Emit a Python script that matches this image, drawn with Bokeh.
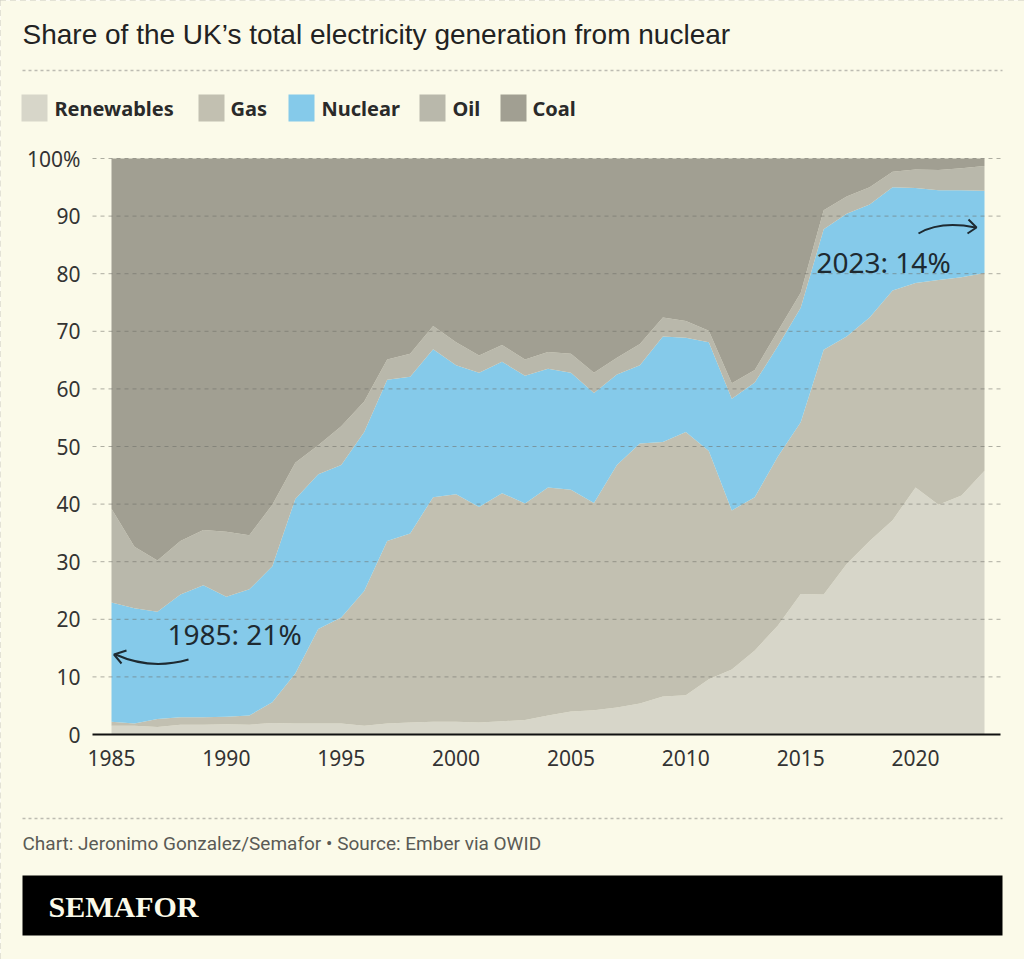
from bokeh.plotting import figure
from bokeh.layouts import column
from bokeh.models import ColumnDataSource, Label, FixedTicker, Range1d, LinearAxis
from bokeh.embed import file_html
from bokeh.resources import INLINE

# ---------------- data (share of UK electricity generation, %) ----------------
years = list(range(1985, 2024))
renewables = [1.5, 1.5, 1.3, 1.7, 1.7, 1.8, 1.7, 2.0, 1.9, 1.9,
              1.9, 1.5, 1.9, 2.1, 2.2, 2.2, 2.1, 2.3, 2.5, 3.3,
              4.0, 4.2, 4.7, 5.4, 6.6, 6.8, 9.6, 11.3, 14.6, 18.9,
              24.4, 24.3, 29.6, 33.6, 37.2, 42.9, 39.9, 41.5, 45.8]
gas = [0.7, 0.4, 1.4, 1.3, 1.3, 1.3, 1.6, 3.6, 8.7, 16.4,
       18.4, 23.4, 31.7, 32.8, 39.0, 39.5, 37.4, 39.6, 37.6, 39.6,
       38.5, 36.0, 42.1, 45.1, 44.2, 45.7, 39.6, 27.6, 26.6, 29.3,
       29.8, 42.5, 39.5, 38.8, 39.9, 35.5, 39.0, 37.9, 34.3]
nuclear = [20.7, 20.0, 18.6, 21.3, 22.9, 20.8, 21.9, 23.6, 30.3, 26.9,
           26.5, 27.6, 28.0, 27.2, 25.7, 22.4, 23.3, 22.8, 22.2, 20.6,
           20.3, 19.1, 15.7, 13.6, 18.3, 16.4, 18.9, 19.4, 19.9, 19.2,
           19.9, 20.9, 21.3, 19.6, 17.9, 16.5, 15.6, 15.1, 14.3]
oil = [16.3, 10.7, 8.9, 9.3, 9.6, 11.3, 9.4, 10.7, 6.3, 5.0,
       6.7, 5.3, 3.5, 4.0, 4.0, 4.0, 3.0, 2.9, 2.8, 2.9,
       3.3, 3.5, 2.9, 3.7, 3.3, 2.9, 2.0, 2.7, 2.2, 2.6,
       2.6, 3.3, 3.0, 3.0, 2.7, 3.2, 3.5, 3.8, 4.3]
coal = [60.8, 67.4, 69.8, 66.4, 64.5, 64.8, 65.4, 60.1, 52.8, 49.8,
        46.5, 42.2, 34.9, 33.9, 29.1, 31.9, 34.2, 32.4, 34.9, 33.6,
        33.9, 37.2, 34.6, 32.2, 27.6, 28.2, 29.9, 39.0, 36.7, 30.0,
        23.3, 9.0, 6.6, 5.0, 2.3, 1.9, 2.0, 1.7, 1.3]

series_names = ["Renewables", "Gas", "Nuclear", "Oil", "Coal"]
series_keys = ["renewables", "gas", "nuclear", "oil", "coal"]
series_colors = ["#D7D6C9", "#C2C0B1", "#85CAEA", "#B9B8AB", "#A19F92"]

y_ticks = [0, 10, 20, 30, 40, 50, 60, 70, 80, 90, 100]
x_ticks = [1985, 1990, 1995, 2000, 2005, 2010, 2015, 2020]

title_text = "Share of the UK\u2019s total electricity generation from nuclear"
source_text = "Chart: Jeronimo Gonzalez/Semafor \u2022 Source: Ember via OWID"
brand_text = "SEMAFOR"
note_1985 = "1985: 21%"
note_2023 = "2023: 14%"

# ---------------- layout constants (page pixels) ----------------
BG = "#FBFAE9"
INK = "#222222"
NOTE = "#1E2A31"
SEP = "#BDBCB2"
W, H = 1024, 959
PLOT_L, PLOT_R, PLOT_T, PLOT_B = 92, 1000, 158, 734
X0_PX, X1_PX = 111, 984          # page x of 1985 and 2023
PX_PER_YEAR = (X1_PX - X0_PX) / 38.0
PX_PER_PCT = (PLOT_B - PLOT_T) / 100.0


def dx(X):  # page x -> data x
    return 1985 + (X - X0_PX) / PX_PER_YEAR


def dy(Y):  # page y -> data y
    return (PLOT_B - Y) / PX_PER_PCT


source = ColumnDataSource(dict(year=years, renewables=renewables, gas=gas,
                               nuclear=nuclear, oil=oil, coal=coal))

p = figure(width=W, height=H, output_backend="svg", toolbar_location=None,
           x_range=Range1d(dx(0), dx(W)), y_range=Range1d(dy(H), dy(0)),
           x_axis_type=None, y_axis_type=None, min_border=0,
           background_fill_color=BG, border_fill_color=BG, outline_line_color=None)

# stacked areas
p.varea_stack(stackers=series_keys, x="year", color=series_colors, source=source)

# dashed horizontal grid lines over the areas (extend a little past the data)
p.segment(x0=[dx(PLOT_L)] * 10, x1=[dx(PLOT_R)] * 10, y0=y_ticks[1:], y1=y_ticks[1:],
          line_color="#6E6D66", line_alpha=0.55, line_dash="4 4", line_width=1)

# axes placed at fixed data locations inside the full-page frame
xaxis = LinearAxis(fixed_location=0, bounds=(dx(PLOT_L), dx(PLOT_R)),
                   ticker=FixedTicker(ticks=x_ticks))
xaxis.axis_line_color = "#111111"
xaxis.axis_line_width = 2
xaxis.major_tick_out = 0
xaxis.major_tick_in = 0
xaxis.major_tick_line_color = None
xaxis.minor_tick_line_color = None
xaxis.major_label_standoff = 15
xaxis.major_label_text_font = "Noto Sans"
xaxis.major_label_text_font_size = "21px"
xaxis.major_label_text_color = "#333333"
p.add_layout(xaxis, "below")

yaxis = LinearAxis(fixed_location=dx(PLOT_L), bounds=(0, 100),
                   ticker=FixedTicker(ticks=y_ticks))
yaxis.major_label_overrides = {100: "100%"}
yaxis.axis_line_color = None
yaxis.major_tick_out = 0
yaxis.major_tick_in = 0
yaxis.major_tick_line_color = None
yaxis.minor_tick_line_color = None
yaxis.major_label_standoff = 12
yaxis.major_label_text_font = "Noto Sans"
yaxis.major_label_text_font_size = "21px"
yaxis.major_label_text_color = "#333333"
p.add_layout(yaxis, "left")

# notes and arrows
p.add_layout(Label(x=dx(167), y=dy(633), text=note_1985, text_font="Noto Sans",
                   text_font_size="28px", text_baseline="middle", text_color=NOTE))
p.add_layout(Label(x=dx(816), y=dy(261), text=note_2023, text_font="Noto Sans",
                   text_font_size="28px", text_baseline="middle", text_color=NOTE))
p.bezier(x0=dx(188), y0=dy(659), x1=dx(115), y1=dy(654),
         cx0=dx(160), cy0=dy(667), cx1=dx(135), cy1=dy(663),
         line_color=NOTE, line_width=2)
p.multi_line(xs=[[dx(126), dx(113.5), dx(121)]], ys=[[dy(650), dy(654), dy(663)]],
             line_color=NOTE, line_width=2)
p.bezier(x0=dx(918), y0=dy(233), x1=dx(975), y1=dy(227),
         cx0=dx(935), cy0=dy(223), cx1=dx(955), cy1=dy(223),
         line_color=NOTE, line_width=2)
p.multi_line(xs=[[dx(968), dx(976), dx(967)]], ys=[[dy(219), dy(227), dy(233)]],
             line_color=NOTE, line_width=2)

# ---------------- header ----------------
p.add_layout(Label(x=dx(22), y=dy(34), text=title_text, text_font="Liberation Sans",
                   text_font_size="28px", text_baseline="middle", text_color=INK))
p.segment(x0=[dx(22), dx(22)], y0=[dy(70), dy(818)], x1=[dx(1002), dx(1002)],
          y1=[dy(70), dy(818)], line_color=SEP, line_dash="3 3", line_width=1.5)
sw_left = [21, 198, 288, 419, 500]
tx_left = [54, 230, 321, 452, 532]
p.quad(left=[dx(v) for v in sw_left], right=[dx(v + 26) for v in sw_left],
       top=[dy(94)] * 5, bottom=[dy(121)] * 5, fill_color=series_colors, line_color=None)
for name, t in zip(series_names, tx_left):
    p.add_layout(Label(x=dx(t), y=dy(107.5), text=name, text_font="Noto Sans",
                       text_font_size="20px", text_font_style="bold",
                       text_baseline="middle", text_color="#2A2A2A"))

# ---------------- footer ----------------
p.add_layout(Label(x=dx(22), y=dy(843), text=source_text, text_font="Roboto",
                   text_font_size="19px", text_baseline="middle", text_color="#5A5A55"))
p.quad(left=[dx(22)], right=[dx(1002)], top=[dy(875)], bottom=[dy(935)],
       fill_color="#000000", line_color=None)
p.add_layout(Label(x=dx(48), y=dy(906), text=brand_text, text_font="Liberation Serif",
                   text_font_size="30px", text_font_style="bold",
                   text_baseline="middle", text_color=BG))

page = column(p, styles={"outline": "2px dashed #CBCAC0", "outline-offset": "-2px"})

open("out.html", "w").write(file_html(page, INLINE))
